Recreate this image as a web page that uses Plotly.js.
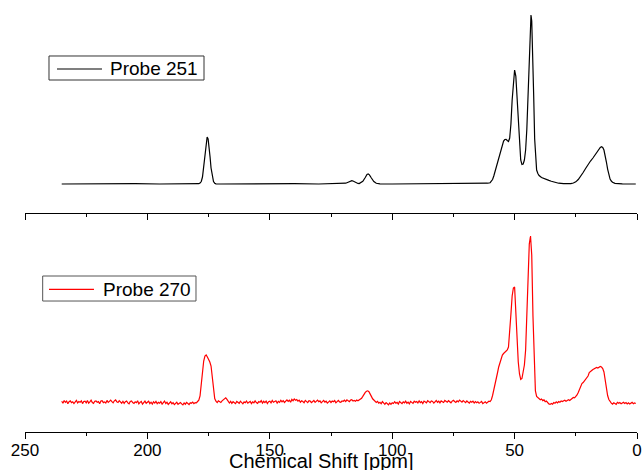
<!DOCTYPE html>
<html>
<head>
<meta charset="utf-8">
<script src="https://cdn.plot.ly/plotly-3.0.1.min.js"></script>
<style>html,body{margin:0;padding:0;background:#fff;}#chart{width:643px;height:470px;}</style>
</head>
<body>
<div id="chart"></div>
<script>
// ---- Probe 251 (top, black): chemical shift [ppm] and intensity ----
const probe251Ppm = [235,225,215,205,195,185,180,179,178.5,178,177.5,177,176.5,176,175.6,175.2,174.8,174.4,174,173.5,173,172.5,172,170,160,150,140,130,122,119,118,117,116.5,116,115,114,113.5,113,112,111,110.3,109.8,109.3,108.5,107.5,106.5,105,100,90,80,70,64,61,60,59.5,59,58.5,58,57.5,57,56.5,56,55.5,55,54.5,54,53.5,53,52.5,52,51.5,51,50.5,50,49.5,49,48.5,48,47.5,47,46.5,46,45.5,45,44.5,44,43.6,43.3,43,42.6,42.2,41.8,41.4,41,40.5,40,39,38,37,36,35,34,33,32,30,28,27,26,25,24,23,22,21,20,19,18,17,16,15,14.5,14,13.5,13,12.5,12,11.5,11,10.5,10,9,8,6,3,0.5];
const probe251Int = [0,0.2,0,0.3,0,0.2,0,0.3,1,2.5,7,18,33,44,47,45,38,27,16,7,2.5,0.8,0.2,0,0.2,0,0.3,0,0.4,0.8,1.8,3.0,3.3,3.0,1.6,0.6,0.5,1.0,2.8,6.5,9.5,10,9.2,6,2.5,0.8,0.2,0,0.2,0,0.2,0.4,0.8,1.3,2.5,4.5,8,12.5,17,22,27,32,36.5,40,43,44.5,44.7,43.5,42.5,46,60,84,105,114,108,85,58,36,24,19.5,20,24,34,55,88,128,157,169,163,135,88,45,22,14,10.5,8.5,6.5,5.3,4.5,3.6,2.8,2.0,1.3,0.8,0.3,0.2,0.4,1,2.2,4.5,7.5,11.5,15.5,19.5,23,26,29.5,33.5,36.5,37.3,36.5,34,29,22,15,9,5,3,1.8,0.7,0.3,0.1,0,0];

// ---- Probe 270 (bottom, red): sampled every 0.5 ppm from 235 ppm downward ----
const probe270Start = 235;
const probe270Step = 0.5;
const probe270Int = [
 0.8,-1.2,1.5,-0.4,0.9,-1.8,0.3,1.1,-0.7,0.2,
 -1.5,0.6,1.7,-0.9,0.4,-0.3,1.2,-1.6,0.5,0.9,
 -0.8,1.4,-1.1,0.2,1.8,-0.5,-1.3,0.7,1.0,-0.2,
 0.4,-1.7,0.9,1.3,-0.6,0.1,-1.0,1.6,-0.3,0.6,
 1.9,0.4,-0.8,1.2,2.1,0.3,-0.5,1.4,0.2,-1.2,
 0.7,-1.4,0.3,1.0,-0.9,-1.8,0.5,1.1,-0.6,-1.5,
 0.2,-0.7,1.3,-1.9,-0.4,0.6,-2.2,-0.8,0.9,-1.3,
 -0.5,0.8,-1.6,-0.2,-2.0,0.3,-1.1,0.7,-1.7,-0.4,
 -1.2,0.4,-2.1,-0.6,0.9,-1.5,-0.3,-2.4,-0.9,0.2,
 -1.8,-0.7,-2.6,-1.1,-0.2,-2.3,-1.4,-0.5,-1.9,-2.8,
 -1.0,-2.2,-0.4,-1.6,-2.5,-0.8,-1.3,-0.1,-1.7,-0.6,
 -0.9,0.5,1.8,6,18,31,41,46,47,45,
 43,40,36,25,11,3.5,0.8,-0.6,1.2,0.3,
 -0.5,1.1,2.3,3.8,4.2,2.6,0.4,-1.0,0.6,-1.4,
 0.3,-0.9,-1.7,0.5,-0.2,-1.3,0.8,-0.6,-1.8,0.1,
 -0.7,1.0,-1.2,-0.3,0.6,-1.6,0.2,-0.8,1.1,-0.5,
 -1.4,0.4,-0.2,1.3,-1.0,0.7,-0.6,0.9,-1.5,0.3,
 0.8,-0.9,1.5,-0.3,0.4,1.2,-1.1,0.6,-0.4,1.7,
 0.2,1.4,-0.5,0.9,2.1,0.6,1.8,-0.2,2.6,1.3,
 3.1,1.7,2.4,0.8,1.9,-0.3,1.2,0.5,-0.8,1.6,
 0.4,-0.6,1.3,0.9,-0.7,0.2,1.5,-0.4,0.7,1.9,
 0.3,1.1,-0.9,0.6,1.6,-0.2,0.8,-1.1,0.5,1.2,
 -0.5,0.9,0.2,1.4,-0.8,0.6,1.7,0.1,-0.4,1.0,
 0.7,1.8,0.4,2.2,1.1,0.3,1.9,2.4,0.9,1.5,
 0.8,2.0,1.2,1.9,2.5,3.8,5.6,7.9,9.6,10.8,
 11.2,10.3,8.4,5.6,3.2,1.6,0.9,-0.4,0.6,-1.2,
 -0.3,-1.8,0.4,-1.1,-2.3,-0.6,-1.9,-2.8,-1.0,-2.4,
 -0.7,-1.5,0.3,-1.2,-0.4,-2.0,0.5,-0.9,-1.6,0.2,
 -0.8,0.9,-1.3,-0.1,-1.9,0.6,-0.5,-1.4,0.8,-0.2,
 0.5,-1.0,1.2,-0.6,0.3,-1.5,0.9,0.1,-0.8,1.4,
 0.2,-0.7,1.0,0.6,-1.1,0.4,1.5,-0.3,0.8,-0.9,
 1.1,0.3,-0.5,1.6,0.7,-0.2,1.3,0.4,-0.8,0.9,
 1.7,0.5,-0.4,1.2,0.2,1.9,0.8,-0.1,1.4,0.6,
 -0.6,1.0,0.3,-1.2,0.7,-0.3,0.9,-1.0,0.4,-0.7,
 0.2,-1.3,-0.4,0.6,-1.6,-0.8,0.3,-1.1,-0.2,0.8,
 0.4,2.3,6.5,11.5,17,23,29,35,40,45,
 47,48.5,49.5,50.5,52,55,68,88,106,114,
 115,91,60,40,28,22.5,23.5,29,37,52,
 82,124,158,166,147,86,35,11,5.5,4,
 3.5,2.2,3.0,1.4,2.1,0.3,1.0,-0.8,-1.9,-2.4,
 -1.5,-2.2,-0.6,-1.3,0.1,-0.9,0.5,-0.3,1.0,0.4,
 0.9,1.8,0.7,1.6,2.2,1.5,2.8,3.3,4.5,4.2,
 5.5,7,9.5,12.5,16.5,18.5,19.5,21,22.5,23.5,
 26,29.5,31,31.5,32.5,33,33.5,34.5,34,35,
 35.5,35,33.5,30,22,13,6.5,2.5,0.3,-1.2,
 -2.1,-0.8,-1.6,-2.4,-0.3,-1.2,-0.5,-1.8,-0.9,-0.2,
 -1.4,-0.6,-1.9,-0.8,-2.0,-1.1,-0.4,-1.7,-1.0,-1.5
];
const probe270Ppm = probe270Int.map((_, i) => probe270Start - i * probe270Step);

const seriesNames = ['Probe 251', 'Probe 270'];
const seriesColors = ['#000000', '#ff0000'];
const tickVals = [250, 200, 150, 100, 50, 0];
const tickText = ['250', '200', '150', '100', '50', '0'];
const xTitle = 'Chemical Shift [ppm]';

const FONT = 'Arial, "Liberation Sans", sans-serif';

const traces = [
  {x: probe251Ppm, y: probe251Int, type: 'scatter', mode: 'lines', name: seriesNames[0],
   xaxis: 'x2', yaxis: 'y2', line: {color: seriesColors[0], width: 1.2}},
  {x: probe270Ppm, y: probe270Int, type: 'scatter', mode: 'lines', name: seriesNames[1],
   xaxis: 'x', yaxis: 'y', line: {color: seriesColors[1], width: 1.2}}
];

const xCommon = {
  range: [250, 0], showgrid: false, zeroline: false, showline: true, linecolor: '#000', linewidth: 1,
  ticks: 'outside', ticklen: 6, tickwidth: 1, tickcolor: '#000',
  tickvals: tickVals, ticktext: tickText,
  minor: {dtick: 25, tick0: 0, ticks: 'outside', ticklen: 3, tickwidth: 1, tickcolor: '#000', showgrid: false}
};

// legend boxes drawn in paper coordinates (per panel)
const legendBoxes = [
  {x0: 0.0392, x1: 0.2925, y0: 0.8148, y1: 0.8704, lx0: 0.0523, lx1: 0.1258, ly: 0.8403, tx: 0.1356, border: '#333'},
  {x0: 0.0289, x1: 0.2794, y0: 0.3032, y1: 0.3611, lx0: 0.0392, lx1: 0.1127, ly: 0.3303, tx: 0.1237, border: '#555'}
];
const shapes = [];
const annotations = [];
legendBoxes.forEach((b, i) => {
  shapes.push({type: 'rect', xref: 'paper', yref: 'paper', x0: b.x0, x1: b.x1, y0: b.y0, y1: b.y1,
    line: {color: b.border, width: 1}, fillcolor: 'rgba(255,255,255,0)'});
  shapes.push({type: 'line', xref: 'paper', yref: 'paper', x0: b.lx0, x1: b.lx1, y0: b.ly, y1: b.ly,
    line: {color: seriesColors[i], width: 1.2}});
  annotations.push({xref: 'paper', yref: 'paper', x: b.tx, y: b.ly, xanchor: 'left', yanchor: 'middle',
    text: seriesNames[i], showarrow: false, font: {family: FONT, size: 19, color: '#000'}});
});
annotations.push({xref: 'paper', yref: 'paper', x: 0.4837, y: -0.097, xanchor: 'center', yanchor: 'bottom',
  text: xTitle, showarrow: false, font: {family: FONT, size: 20, color: '#000'}});

const layout = {
  width: 643, height: 470,
  margin: {l: 25, r: 6, t: 0, b: 38},
  paper_bgcolor: '#fff', plot_bgcolor: '#fff',
  font: {family: FONT, color: '#000'},
  showlegend: false,
  xaxis: Object.assign({}, xCommon, {anchor: 'y', ticklabelstandoff: -3,
    tickfont: {family: FONT, size: 17, color: '#000'}}),
  xaxis2: Object.assign({}, xCommon, {anchor: 'y2', matches: 'x', showticklabels: false}),
  yaxis: {domain: [0, 0.5], range: [-30, 186], visible: false, fixedrange: true},
  yaxis2: {domain: [0.5069, 1], range: [-29, 184], visible: false, fixedrange: true},
  shapes: shapes,
  annotations: annotations
};

Plotly.newPlot('chart', traces, layout, {displayModeBar: false, staticPlot: true});
</script>
</body>
</html>
